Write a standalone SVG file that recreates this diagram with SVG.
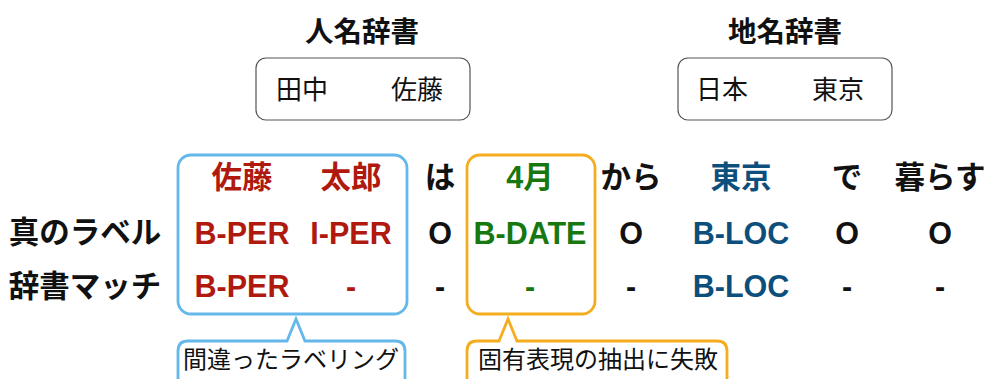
<svg xmlns="http://www.w3.org/2000/svg" width="986" height="379" viewBox="0 0 986 379">
<style>
text{font-family:"Liberation Sans","Noto Sans CJK JP",sans-serif;text-anchor:middle}
.b{font-weight:bold;font-size:30.5px}
.t{font-weight:bold;font-size:28.5px;fill:#111}
.d{font-size:26px;fill:#111}
.c{font-size:24px;fill:#111}
.k{fill:#111}
.r{fill:#b0190e}
.g{fill:#16780f}
.u{fill:#0d4f7c}
.dict{fill:#fff;stroke:#555;stroke-width:1.2}
.blue{fill:none;stroke:#64b8ea;stroke-width:2.8}
.orange{fill:none;stroke:#f3ad1e;stroke-width:2.8}
</style>
<rect width="986" height="379" fill="#fff"/>
<g id="person-dict">
<text class="t" x="362" y="42">人名辞書</text>
<rect class="dict" x="256" y="58" width="214" height="62" rx="10"/>
<text class="d" x="302" y="99">田中</text>
<text class="d" x="417" y="99">佐藤</text>
</g>
<g id="place-dict">
<text class="t" x="785" y="42">地名辞書</text>
<rect class="dict" x="678" y="58" width="214" height="62" rx="10"/>
<text class="d" x="722" y="99">日本</text>
<text class="d" x="838" y="99">東京</text>
</g>
<g id="row-labels">
<text class="b k" x="85" y="243">真のラベル</text>
<text class="b k" x="85" y="297">辞書マッチ</text>
</g>
<g id="tokens">
<text class="b r" x="242" y="188">佐藤</text>
<text class="b r" x="351" y="188">太郎</text>
<text class="b k" x="440" y="188">は</text>
<text class="b g" x="530" y="188">4月</text>
<text class="b k" x="631" y="188">から</text>
<text class="b u" x="741" y="188">東京</text>
<text class="b k" x="847" y="188">で</text>
<text class="b k" x="940" y="188">暮らす</text>
</g>
<g id="true-labels">
<text class="b r" x="242" y="244">B-PER</text>
<text class="b r" x="351" y="244">I-PER</text>
<text class="b k" x="440" y="244">O</text>
<text class="b g" x="530" y="244">B-DATE</text>
<text class="b k" x="631" y="244">O</text>
<text class="b u" x="741" y="244">B-LOC</text>
<text class="b k" x="847" y="244">O</text>
<text class="b k" x="940" y="244">O</text>
</g>
<g id="dict-labels">
<text class="b r" x="242" y="297">B-PER</text>
<text class="b r" x="351" y="297">-</text>
<text class="b k" x="440" y="297">-</text>
<text class="b g" x="530" y="297">-</text>
<text class="b k" x="631" y="297">-</text>
<text class="b u" x="741" y="297">B-LOC</text>
<text class="b k" x="847" y="297">-</text>
<text class="b k" x="940" y="297">-</text>
</g>
<g id="wrong-label">
<rect class="blue" x="178" y="155" width="229" height="159" rx="13"/>
<path class="blue" d="M178,385 L178,351 Q178,341 188,341 L287,341 L296,319 L305,341 L395,341 Q405,341 405,351 L405,385"/>
<text class="c" x="291" y="368">間違ったラベリング</text>
</g>
<g id="missed-extraction">
<rect class="orange" x="467" y="155" width="128" height="159" rx="13"/>
<path class="orange" d="M467,385 L467,351 Q467,341 477,341 L499,341 L508,319 L517,341 L717,341 Q727,341 727,351 L727,385"/>
<text class="c" x="598" y="368">固有表現の抽出に失敗</text>
</g>
<g id="connectors"></g>
</svg>
